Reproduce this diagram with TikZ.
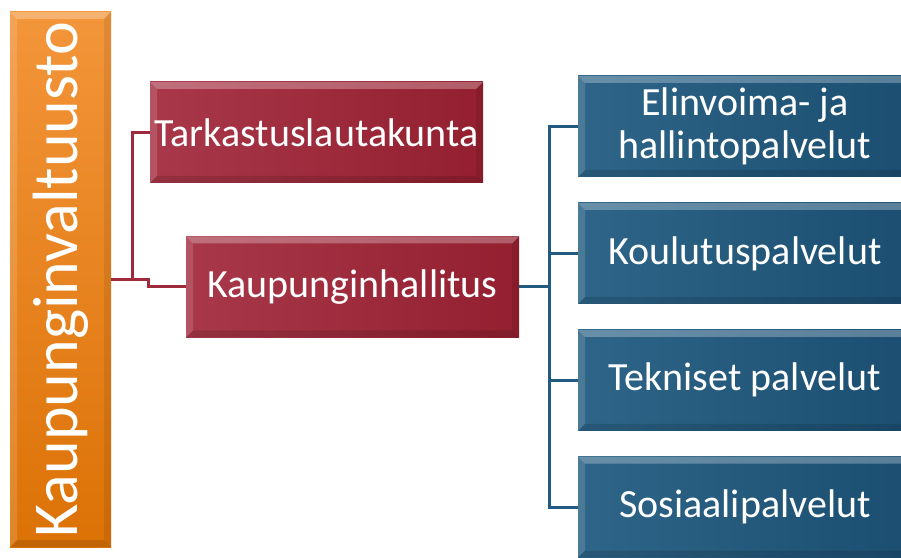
\documentclass[tikz,border=0pt]{standalone}
\usepackage{fontspec}
\setmainfont{Carlito}
\usetikzlibrary{positioning,calc}

\definecolor{orangetop}{HTML}{F3953A}
\definecolor{orangebot}{HTML}{DC7206}
\definecolor{redleft}{HTML}{A8384A}
\definecolor{redright}{HTML}{931F2F}
\definecolor{blueleft}{HTML}{2E6588}
\definecolor{blueright}{HTML}{1B4E70}
\definecolor{redline}{HTML}{9E2A3B}
\definecolor{blueline}{HTML}{215B7F}

\tikzset{
    bevel/.style={path picture={
        \fill[white,opacity=.28] (path picture bounding box.north west) -- (path picture bounding box.north east)
            -- ([shift={(-7pt,-7pt)}]path picture bounding box.north east) -- ([shift={(7pt,-7pt)}]path picture bounding box.north west) -- cycle;
        \fill[white,opacity=.14] (path picture bounding box.north west) -- (path picture bounding box.south west)
            -- ([shift={(7pt,7pt)}]path picture bounding box.south west) -- ([shift={(7pt,-7pt)}]path picture bounding box.north west) -- cycle;
        \fill[black,opacity=.12] (path picture bounding box.south west) -- (path picture bounding box.south east)
            -- ([shift={(-7pt,7pt)}]path picture bounding box.south east) -- ([shift={(7pt,7pt)}]path picture bounding box.south west) -- cycle;
        \fill[black,opacity=.08] (path picture bounding box.north east) -- (path picture bounding box.south east)
            -- ([shift={(-7pt,7pt)}]path picture bounding box.south east) -- ([shift={(-7pt,-7pt)}]path picture bounding box.north east) -- cycle;
    }},
    orangebox/.style={rectangle, bevel, top color=orangetop, bottom color=orangebot, text=white,
        minimum width=101pt, minimum height=535pt, inner sep=0pt, font=\fontsize{64}{70}\selectfont},
    redbox/.style={rectangle, bevel, left color=redleft, right color=redright, text=white,
        minimum width=333pt, minimum height=101pt, inner sep=0pt, font=\fontsize{40}{43}\selectfont},
    bluebox/.style={rectangle, bevel, left color=blueleft, right color=blueright, text=white, align=center,
        minimum width=334pt, minimum height=101pt, inner sep=0pt, font=\fontsize{40}{43}\selectfont},
    redconn/.style={draw=redline, line width=3pt},
    blueconn/.style={draw=blueline, line width=3pt}
}

\begin{document}
\begin{tikzpicture}[x=1pt, y=1pt, node distance=25.5pt]
    \useasboundingbox (0,0) rectangle (901,557);
    \clip (0,0) rectangle (901,557);

    % council on the left
    \node[orangebox] (valtuusto) at (60.5,277.5) {\rotatebox{90}{Kaupunginvaltuusto}};

    % red boards
    \node[redbox] (tarkastus) at (316.5,424.5) {Tarkastuslautakunta};
    \node[redbox] (hallitus) at (352.5,270) {Kaupunginhallitus};

    % blue service areas
    \node[bluebox] (elinvoima) at (745,430.5) {Elinvoima- ja\\hallintopalvelut};
    \node[bluebox, below=of elinvoima] (koulutus) {Koulutuspalvelut};
    \node[bluebox, below=of koulutus] (tekniset) {Tekniset palvelut};
    \node[bluebox, below=of tekniset] (sosiaali) {Sosiaalipalvelut};

    % connectors
    \coordinate (redjoin) at (132,277);
    \coordinate (bluejoin) at ($(hallitus.east)+(30,0)$);

    \draw[redconn] (valtuusto.east |- redjoin) -- (redjoin) |- (tarkastus.west);
    \draw[redconn] (redjoin) -- ++(16,0) |- (hallitus.west);

    \draw[blueconn] (hallitus.east) -- (bluejoin);
    \foreach \n in {elinvoima,koulutus,tekniset,sosiaali}
        \draw[blueconn] (bluejoin) |- (\n.west);
\end{tikzpicture}
\end{document}
